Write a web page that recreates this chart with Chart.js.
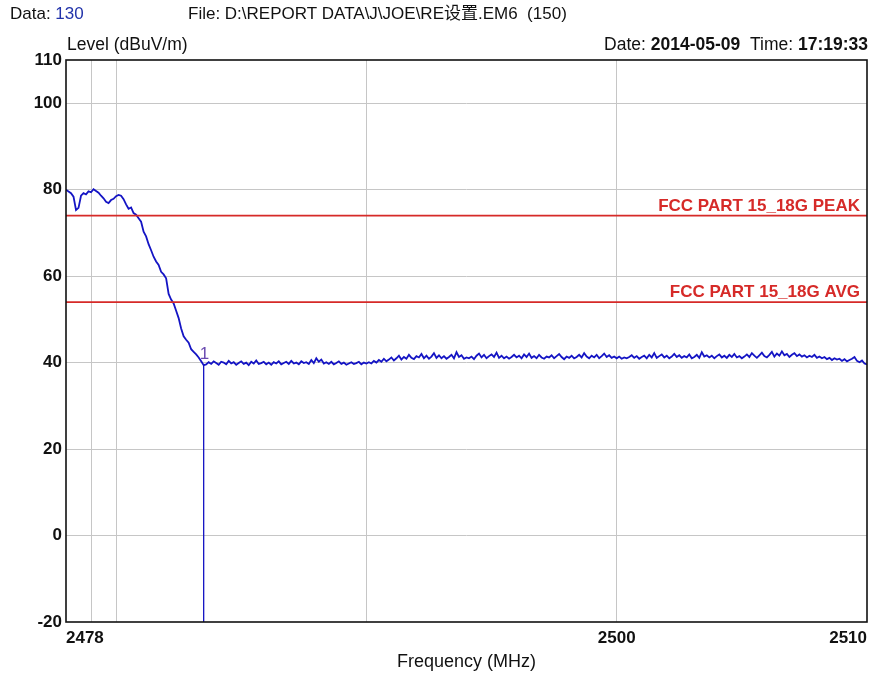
<!DOCTYPE html>
<html>
<head>
<meta charset="utf-8">
<script src="https://cdn.jsdelivr.net/npm/chart.js@4.4.1/dist/chart.umd.min.js"></script>
<style>
  html, body { margin: 0; padding: 0; background: #fff; }
  #wrap { width: 884px; height: 674px; position: relative; }
</style>
</head>
<body>
<div id="wrap"><canvas id="emi"></canvas></div>
<script>
// sweep: 2478 - 2510 MHz, 0.1 MHz per point (321 points)
const freqStart = 2478;
const freqStep = 0.1;

// measured level, dBuV/m
const levels = [
  80.0, 79.6, 79.2, 78.4, 75.3, 75.8, 78.6, 79.2, 78.9, 79.6,
  79.4, 80.1, 79.7, 79.3, 78.6, 78.0, 77.2, 76.9, 77.6, 77.9,
  78.5, 78.8, 78.6, 77.8, 76.6, 75.6, 75.9, 74.6, 74.2, 73.4,
  72.6, 70.3, 69.2, 67.4, 66.0, 64.5, 63.4, 62.6, 61.0, 60.4,
  59.5, 55.9, 54.6, 53.7, 52.0, 50.3, 47.9, 46.1, 45.3, 44.6,
  43.1, 42.5, 41.9, 41.2, 40.3, 39.4,
  39.6, 40.1, 39.7, 40.3, 39.9, 39.5, 40.2, 40.0, 39.6, 40.4,
  39.8, 40.1, 39.5, 39.9, 40.3, 39.7, 40.0, 39.4, 40.2, 39.8,
  40.5, 39.7, 39.9, 40.2, 39.6, 40.0, 39.5, 40.1, 39.8, 40.3,
  39.6, 39.9, 40.2, 39.7, 40.4, 39.8, 40.0, 39.6, 40.3, 39.9,
  40.1, 39.7, 40.6, 39.9, 41.0, 40.2, 40.7, 39.8, 40.1, 39.7,
  40.2, 39.6, 39.9, 40.3, 39.7, 40.0, 39.5, 39.8, 40.1, 39.7,
  39.9, 40.2, 39.6, 40.0, 39.8,
  40.1, 39.8, 40.4, 40.0, 40.6, 40.2, 40.9, 40.3, 40.7, 41.2,
  40.5, 41.0, 41.6, 40.7, 41.3, 40.9, 41.8, 41.1, 40.8, 41.5,
  41.2, 42.0, 41.0, 41.6, 40.9, 41.4, 42.2, 41.1, 41.7, 41.0,
  41.5, 40.9, 41.3, 41.8, 41.0, 42.4, 41.3, 41.7, 40.9, 41.2,
  41.0, 41.4, 40.8, 41.6, 42.1, 41.2, 41.8, 41.0, 41.5, 41.9,
  41.3, 42.3, 41.1, 41.6, 41.0, 41.4, 40.9, 41.3, 41.8, 41.2,
  41.6, 41.0, 41.9, 41.3, 42.1, 41.1, 41.5, 41.0, 41.8, 41.2,
  40.9, 41.4, 41.2, 41.7, 41.0, 41.5, 42.0, 41.3, 40.8, 41.4,
  41.1, 41.6, 41.0, 41.3, 41.8, 41.2, 42.2, 41.4, 41.0, 41.6,
  41.2, 41.8, 41.0, 41.5, 42.1, 41.3, 41.7, 41.1, 41.4, 41.0,
  41.4, 40.9, 41.2, 41.0, 41.3, 41.7, 41.1, 41.5, 40.9, 41.3,
  41.6, 41.0, 41.8, 41.2, 42.2, 41.1, 41.5, 41.9, 41.2, 41.6,
  41.0, 41.4, 42.0, 41.3, 41.7, 41.1, 41.5, 41.2, 41.9, 41.0,
  41.3, 41.8, 41.1, 42.4, 41.4, 41.7, 41.2, 41.6, 41.0, 41.5,
  41.9, 41.2, 41.6, 41.1, 41.8, 41.3, 42.0, 41.2, 41.5, 41.0,
  41.4, 41.9, 41.3, 42.2, 41.6, 41.1, 41.7, 42.3, 41.5, 41.2,
  41.8, 42.5, 41.4, 42.1, 41.6, 42.6, 41.7, 42.0, 41.3, 41.8,
  42.2, 41.5, 41.9, 41.4, 41.7, 41.2, 41.6, 41.3, 41.8, 41.1,
  41.4, 41.0, 41.3, 40.8, 41.1, 40.6, 41.0, 40.7, 40.9, 40.4,
  40.8, 40.3, 40.6, 40.9, 41.3, 40.4, 40.1, 40.5, 39.8, 39.6
];

// limit lines
const limitNames = ['FCC PART 15_18G PEAK', 'FCC PART 15_18G AVG'];
const limitLevels = [74, 54];

// marker 1
const markerFreq = [2483.5];
const markerLevel = [39.4];

// axis ticks
const yTicks = [-20, 0, 20, 40, 60, 80, 100, 110];
const xGrid = [2478, 2479, 2480, 2490, 2500, 2510];
const xLabels = [2478, 2500, 2510];

const FONT = '"Liberation Sans", Arial, "Noto Sans CJK SC", sans-serif';
const TRACE = '#1414c4';
const LIMIT = '#d62a28';

const tracePts = levels.map(function (v, i) {
  return { x: +(freqStart + i * freqStep).toFixed(1), y: v };
});
const xMin = freqStart;
const xMax = tracePts[tracePts.length - 1].x;

const datasets = [];
limitLevels.forEach(function (lv) {
  datasets.push({
    data: [{ x: xMin, y: lv }, { x: xMax, y: lv }],
    borderColor: LIMIT, borderWidth: 1.6, pointRadius: 0
  });
});
datasets.push({
  data: tracePts, borderColor: TRACE, borderWidth: 1.8, pointRadius: 0, tension: 0
});
markerFreq.forEach(function (f, i) {
  datasets.push({
    data: [{ x: f, y: markerLevel[i] }, { x: f, y: yTicks[0] }],
    borderColor: TRACE, borderWidth: 1.3, pointRadius: 0
  });
});

const decor = {
  id: 'decor',
  afterDatasetsDraw: function (chart) {
    const ctx = chart.ctx;
    const a = chart.chartArea;
    const xs = chart.scales.x, ys = chart.scales.y;
    ctx.save();
    // frame
    ctx.strokeStyle = '#111';
    ctx.lineWidth = 1.6;
    ctx.strokeRect(a.left, a.top, a.right - a.left, a.bottom - a.top);

    // limit captions
    ctx.font = 'bold 17px ' + FONT;
    ctx.fillStyle = LIMIT;
    ctx.textAlign = 'right';
    ctx.textBaseline = 'alphabetic';
    limitLevels.forEach(function (lv, i) {
      ctx.fillText(limitNames[i], a.right - 7, ys.getPixelForValue(lv) - 5);
    });

    // marker number
    ctx.font = '17px ' + FONT;
    ctx.fillStyle = '#6a4bb0';
    ctx.textAlign = 'left';
    markerFreq.forEach(function (f, i) {
      ctx.fillText(String(i + 1), xs.getPixelForValue(f) - 4, ys.getPixelForValue(markerLevel[i]) - 6);
    });

    // header
    ctx.textBaseline = 'middle';
    ctx.font = '17px ' + FONT;
    ctx.fillStyle = '#111';
    ctx.fillText('Data: ', 10, 14);
    const w = ctx.measureText('Data: ').width;
    ctx.fillStyle = '#2233aa';
    ctx.fillText('130', 10 + w, 14);
    ctx.fillStyle = '#111';
    ctx.fillText('File: D:\\REPORT DATA\\J\\JOE\\RE设置.EM6  (150)', 188, 14);
    ctx.font = '17.5px ' + FONT;
    ctx.fillText('Level (dBuV/m)', a.left + 1, 45);

    // date / time, right aligned
    const parts = [['Date: ', ''], ['2014-05-09', 'bold '], ['  Time: ', ''], ['17:19:33', 'bold ']];
    let x = a.right + 1;
    for (let i = parts.length - 1; i >= 0; i--) {
      ctx.font = parts[i][1] + '17.5px ' + FONT;
      x -= ctx.measureText(parts[i][0]).width;
    }
    parts.forEach(function (p) {
      ctx.font = p[1] + '17.5px ' + FONT;
      ctx.fillText(p[0], x, 45);
      x += ctx.measureText(p[0]).width;
    });
    ctx.restore();
  }
};

new Chart(document.getElementById('emi'), {
  type: 'line',
  data: { datasets: datasets },
  options: {
    responsive: true,
    maintainAspectRatio: false,
    animation: false,
    layout: { padding: { left: 0, right: 17, top: 60, bottom: 0 } },
    plugins: { legend: { display: false }, tooltip: { enabled: false } },
    scales: {
      x: {
        type: 'linear', min: xMin, max: xMax,
        afterBuildTicks: function (s) { s.ticks = xGrid.map(function (v) { return { value: v }; }); },
        afterFit: function (s) { s.height = 52; },
        grid: {
          drawTicks: false,
          color: function (c) { return (c.tick && (c.tick.value === xMin || c.tick.value === xMax)) ? 'rgba(0,0,0,0)' : '#c6c6c6'; },
          lineWidth: 1
        },
        border: { display: false },
        ticks: {
          align: 'inner', padding: 6, color: '#111', maxRotation: 0, autoSkip: false,
          font: { family: FONT, size: 17, weight: 'bold' },
          callback: function (v) { return xLabels.indexOf(v) >= 0 ? String(v) : ''; }
        },
        title: {
          display: true, text: 'Frequency (MHz)', color: '#111',
          font: { family: FONT, size: 18 }, padding: { top: 0, bottom: 1 }
        }
      },
      y: {
        min: yTicks[0], max: yTicks[yTicks.length - 1],
        afterBuildTicks: function (s) { s.ticks = yTicks.map(function (v) { return { value: v }; }); },
        afterFit: function (s) { s.width = 66; },
        grid: {
          drawTicks: false,
          color: function (c) { return (c.tick && (c.tick.value === yTicks[0] || c.tick.value === yTicks[yTicks.length - 1])) ? 'rgba(0,0,0,0)' : '#c6c6c6'; },
          lineWidth: 1
        },
        border: { display: false },
        ticks: {
          padding: 4, color: '#111', autoSkip: false,
          font: { family: FONT, size: 17, weight: 'bold' }
        }
      }
    }
  },
  plugins: [decor]
});
</script>
</body>
</html>
